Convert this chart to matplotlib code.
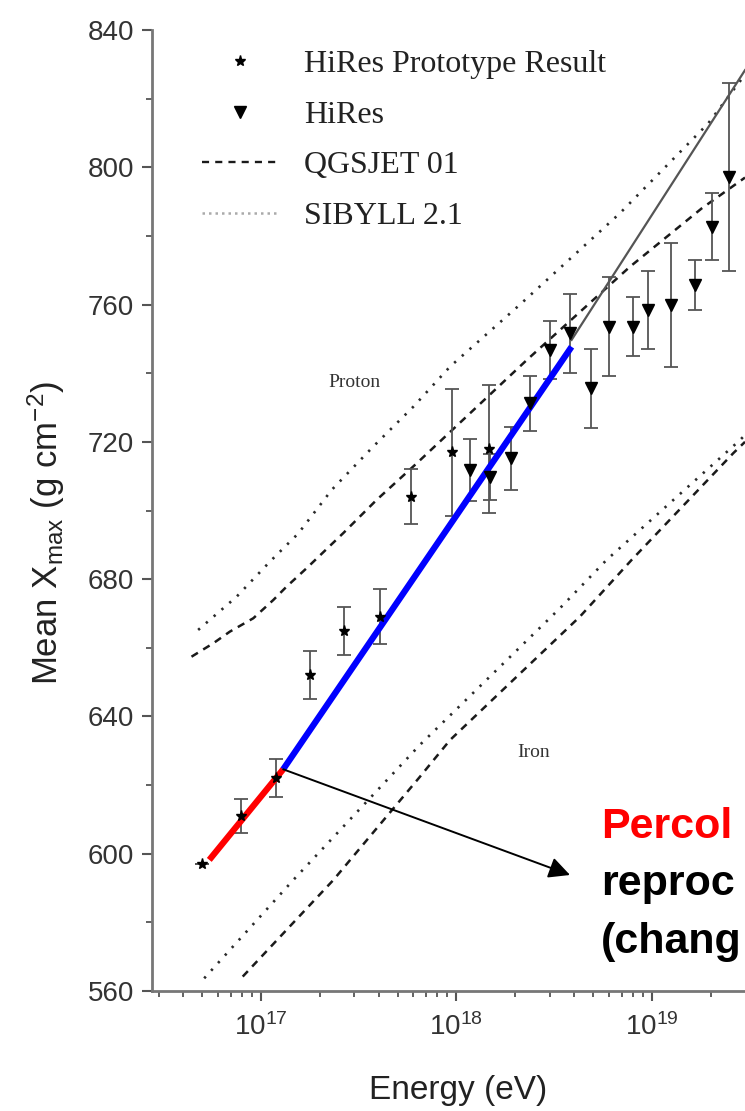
import numpy as np
import matplotlib
matplotlib.use("Agg")
import matplotlib.pyplot as plt
from matplotlib.lines import Line2D
from matplotlib.ticker import LogLocator, NullFormatter, MultipleLocator

plt.rcParams['font.family'] = ['Liberation Sans', 'DejaVu Sans']
plt.rcParams['mathtext.fontset'] = 'custom'
plt.rcParams['mathtext.rm'] = 'Liberation Sans'
plt.rcParams['mathtext.it'] = 'Liberation Sans:italic'
plt.rcParams['mathtext.bf'] = 'Liberation Sans:bold'

# HiRes Prototype / MIA (stars)
proto_E = [5.0e16, 7.9e16, 1.19e17, 1.78e17, 2.67e17, 4.06e17, 5.85e17, 9.5e17, 1.46e18]
proto_X = [597, 611, 622, 652, 665, 669, 704, 717, 718]
proto_err = [0, 5, 5.5, 7, 7, 8, 8, 18.5, 18.7]

# HiRes stereo (triangles)
hires_E = [1.18e18, 1.48e18, 1.91e18, 2.38e18, 3.0e18, 3.81e18, 4.87e18, 6.05e18,
           8.0e18, 9.6e18, 1.25e19, 1.66e19, 2.04e19, 2.48e19]
hires_X = [711.8, 709.8, 715.2, 731.2, 746.8, 751.6, 735.6, 753.6,
           753.6, 758.4, 759.9, 765.7, 782.7, 797.3]
hires_err = [9, 6.8, 9.2, 8, 8.5, 11.6, 11.5, 14.3, 8.7, 11.4, 18, 7.3, 9.7, 27.4]

# model predictions (log10 E, Xmax)
qgs_p_logE = [16.645, 16.756, 16.841, 16.961, 17.063, 17.131, 17.234, 17.421, 17.592,
              17.796, 18.359, 18.887, 19.254, 19.476]
qgs_p_X = [657.4, 661.3, 664.7, 668.6, 673.9, 677.8, 683.2, 693.4, 703.1,
           713.7, 743.8, 771.0, 788.0, 797.0]
sib_p_logE = [16.679, 16.876, 17.046, 17.191, 17.362, 17.574, 17.779, 17.967, 18.325,
              18.836, 19.288, 19.476]
sib_p_X = [665.2, 674.9, 685.1, 693.3, 706.0, 718.6, 730.2, 741.9, 760.0,
           786.6, 812.8, 827.0]
qgs_fe_logE = [16.907, 17.37, 17.813, 17.967, 18.632, 18.896, 19.416, 19.476]
qgs_fe_X = [564.2, 592.3, 622.4, 633.1, 669.1, 685.6, 716.7, 720.0]
sib_fe_logE = [16.71, 17.165, 17.813, 18.529, 18.768, 19.45, 19.476]
sib_fe_X = [563.7, 592.3, 631.7, 671.5, 685.6, 720.5, 722.0]

# percolation curve
perc_red_logE = [16.736, 17.114]
perc_red_X = [598.2, 624.6]
perc_blue_logE = [17.114, 18.589]
perc_blue_X = [624.6, 747.7]
perc_ext_logE = [18.589, 19.476]
perc_ext_X = [749.7, 828.3]

arrow_tail = (10**17.114, 624.6)
arrow_head = (10**18.581, 593.8)

# slide text, as far as it shows in the cropped picture
note_lines = ['Percol', 'reproc', '(chang']

W, H = 745, 1111
fig = plt.figure(figsize=(W / 100, H / 100), dpi=100)
ax = fig.add_axes([152 / W, 120 / H, 593 / W, 961 / H])

def E(lg):
    return 10 ** np.array(lg)

dot_col = '#2a2a2a'
ax.plot(E(sib_p_logE), sib_p_X, color=dot_col, lw=1.9, dashes=(0.9, 3))
ax.plot(E(sib_fe_logE), sib_fe_X, color=dot_col, lw=1.9, dashes=(0.9, 3))
ax.plot(E(qgs_p_logE), qgs_p_X, color='#1a1a1a', lw=1.8, dashes=(3, 2.5))
ax.plot(E(qgs_fe_logE), qgs_fe_X, color='#1a1a1a', lw=1.8, dashes=(3, 2.5))
ax.plot(E(perc_ext_logE), perc_ext_X, color='#555555', lw=1.6)

ax.errorbar(proto_E, proto_X, yerr=proto_err, fmt='*', color='black', ms=8,
            ecolor='#555555', elinewidth=1.3, capsize=5, capthick=1.3)
ax.errorbar(hires_E, hires_X, yerr=hires_err, fmt='v', color='black', ms=9,
            ecolor='#555555', elinewidth=1.3, capsize=5, capthick=1.3)

ax.plot(E(perc_red_logE), perc_red_X, color='#ff0000', lw=4.5, solid_capstyle='butt')
ax.plot(E(perc_blue_logE), perc_blue_X, color='#0000ff', lw=4.5, solid_capstyle='butt')

ax.annotate('', xy=arrow_head, xytext=arrow_tail,
            arrowprops=dict(arrowstyle='-|>', color='black', lw=1.4,
                            mutation_scale=32, shrinkA=0, shrinkB=0))

ax.text(10**17.481, 737.4, 'Proton', family='Liberation Serif', fontsize=14,
        color='#333333', ha='center', va='center')
ax.text(10**18.396, 629.6, 'Iron', family='Liberation Serif', fontsize=14,
        color='#333333', ha='center', va='center')

ax.set_xscale('log')
ax.set_xlim(10**16.443, 10**19.476)
ax.set_ylim(560, 840)
ax.yaxis.set_major_locator(MultipleLocator(40))
ax.yaxis.set_minor_locator(MultipleLocator(20))
ax.xaxis.set_major_locator(LogLocator(base=10, numticks=10))
ax.xaxis.set_minor_locator(LogLocator(base=10, subs=np.arange(2, 10), numticks=20))
ax.xaxis.set_minor_formatter(NullFormatter())

for s in ['top', 'right']:
    ax.spines[s].set_visible(False)
for s in ['left', 'bottom']:
    ax.spines[s].set_color('#777777')
    ax.spines[s].set_linewidth(2)

ax.tick_params(which='major', direction='out', length=7, width=1.5, color='#555555',
               labelsize=20, labelcolor='#333333')
ax.tick_params(which='minor', direction='out', length=4, width=1.3, color='#555555')
ax.tick_params(axis='y', pad=6)
ax.tick_params(axis='x', pad=9)

fig.text(458 / W, 1 - 1090 / H, 'Energy (eV)', fontsize=24, color='#222222',
         ha='center', va='center')
fig.text(46 / W, 1 - 533 / H, r'Mean X$_{\mathregular{max}}$ (g cm$^{\mathregular{-2}}$)',
         fontsize=25, color='#222222', rotation=90, ha='center', va='center')

handles = [
    Line2D([], [], ls='none', marker='*', color='black', ms=8),
    Line2D([], [], ls='none', marker='v', color='black', ms=9),
    Line2D([], [], color='#1a1a1a', lw=1.7, dashes=(3, 2.6)),
    Line2D([], [], color='#aaaaaa', lw=1.8, dashes=(1, 1.6)),
]
labels = ['HiRes Prototype Result', 'HiRes', 'QGSJET 01', 'SIBYLL 2.1']
leg = ax.legend(handles, labels, loc='upper left', bbox_to_anchor=(202 / W, 1 - 50 / H),
                bbox_transform=fig.transFigure, frameon=False, borderpad=0,
                borderaxespad=0, handlelength=2.4, handletextpad=0.8,
                labelspacing=0.66, prop={'family': 'Liberation Serif', 'size': 23})
for t in leg.get_texts():
    t.set_color('#222222')

note_colors = ['#ff0000', 'black', 'black']
note_base = [838, 895, 953]
for txt, col, yb in zip(note_lines, note_colors, note_base):
    fig.text(601 / W, 1 - yb / H, txt, fontsize=31, fontweight='bold',
             color=col, va='baseline')

fig.savefig('out.png', dpi=100)
